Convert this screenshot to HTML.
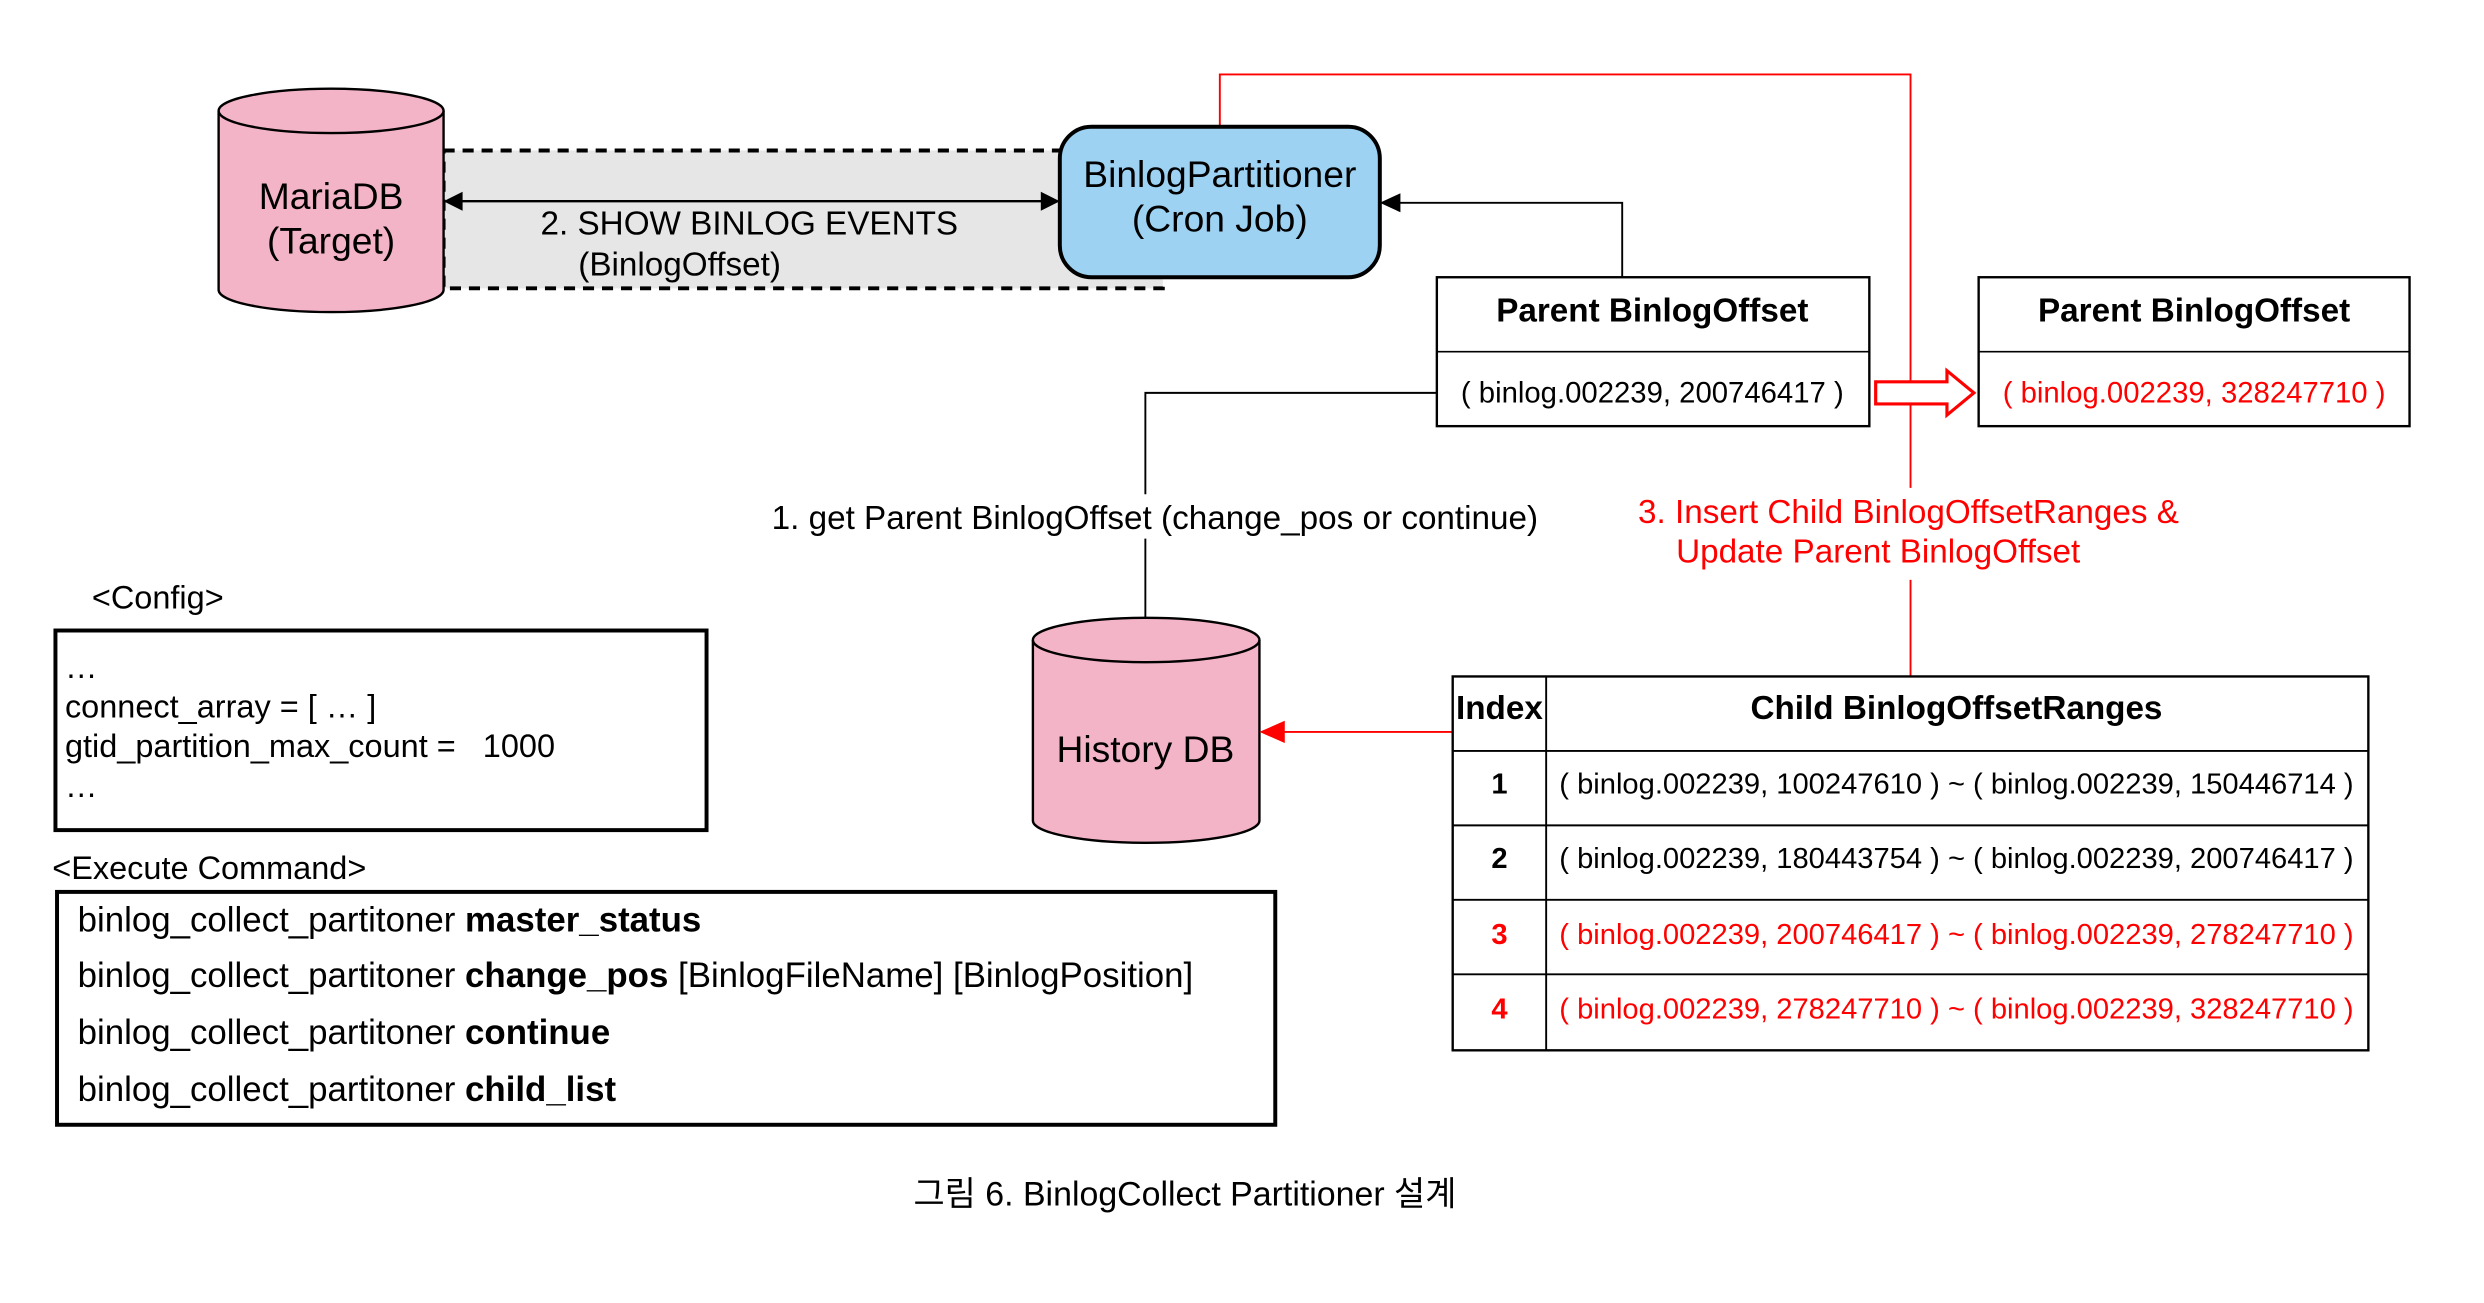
<!DOCTYPE html>
<html><head><meta charset="utf-8"><style>html,body{margin:0;padding:0;background:#fff}svg{display:block}text{font-family:"Liberation Sans","Noto Sans CJK KR",sans-serif}</style></head>
<body>
<svg width="2484" height="1303" viewBox="0 0 1568 822.5" xmlns="http://www.w3.org/2000/svg">
<rect x="280" y="95" width="454" height="87" fill="#e6e6e6" stroke="#000" stroke-width="2.5" stroke-dasharray="7,5"/>
<path d="M138,70 L138,183 A71,14 0 0 0 280,183 L280,70" fill="#f4b4c8" stroke="#000" stroke-width="1.5"/>
<ellipse cx="209" cy="70" rx="71" ry="14" fill="#f4b4c8" stroke="#000" stroke-width="1.5"/>
<text x="209" y="132" font-size="23.5" text-anchor="middle">MariaDB</text>
<text x="209" y="160" font-size="23.5" text-anchor="middle">(Target)</text>
<line x1="290" y1="127" x2="659" y2="127" stroke="#000" stroke-width="1.5"/>
<path d="M280,127 L292,121 L292,133 z" fill="#000"/>
<path d="M669,127 L657,121 L657,133 z" fill="#000"/>
<text x="473" y="148" font-size="21" text-anchor="middle">2. SHOW BINLOG EVENTS</text>
<text x="429" y="174" font-size="21" text-anchor="middle">(BinlogOffset)</text>
<polyline points="770,80 770,47 1206,47 1206,308" fill="none" stroke="#f00" stroke-width="1.2"/>
<line x1="1206" y1="366" x2="1206" y2="427" stroke="#f00" stroke-width="1.2"/>
<rect x="669" y="80" width="202" height="95" rx="20" fill="#9dd2f2" stroke="#000" stroke-width="2.5"/>
<text x="770" y="118" font-size="23.5" text-anchor="middle">BinlogPartitioner</text>
<text x="770" y="146" font-size="23.5" text-anchor="middle">(Cron Job)</text>
<polyline points="1024,175 1024,128 883,128" fill="none" stroke="#000" stroke-width="1.2"/>
<path d="M871,128 L884,122 L884,134 z" fill="#000"/>
<rect x="907" y="175" width="273" height="94" fill="#fff" stroke="#000" stroke-width="1.5"/>
<line x1="907" y1="222" x2="1180" y2="222" stroke="#000" stroke-width="1"/>
<text x="1043" y="203" font-size="21" font-weight="bold" text-anchor="middle">Parent BinlogOffset</text>
<text x="1043" y="254" font-size="18.5" text-anchor="middle">( binlog.002239, 200746417 )</text>
<rect x="1249" y="175" width="272" height="94" fill="#fff" stroke="#000" stroke-width="1.5"/>
<line x1="1249" y1="222" x2="1521" y2="222" stroke="#000" stroke-width="1"/>
<text x="1385" y="203" font-size="21" font-weight="bold" text-anchor="middle">Parent BinlogOffset</text>
<text x="1385" y="254" font-size="18.5" text-anchor="middle" fill="#f00">( binlog.002239, 328247710 )</text>
<path d="M1184,241 L1229,241 L1229,234 L1246,248 L1229,262 L1229,255 L1184,255 z" fill="#fff" stroke="#f00" stroke-width="2"/>
<polyline points="907,248 723,248 723,312" fill="none" stroke="#000" stroke-width="1.2"/>
<line x1="723" y1="340" x2="723" y2="390" stroke="#000" stroke-width="1.2"/>
<text x="729" y="334" font-size="21" text-anchor="middle">1. get Parent BinlogOffset (change_pos or continue)</text>
<text x="1034" y="330" font-size="21" fill="#f00">3. Insert Child BinlogOffsetRanges &amp;</text>
<text x="1058" y="355" font-size="21" fill="#f00">Update Parent BinlogOffset</text>
<path d="M652,404 L652,518 A71.5,14 0 0 0 795,518 L795,404" fill="#f4b4c8" stroke="#000" stroke-width="1.5"/>
<ellipse cx="723.5" cy="404" rx="71.5" ry="14" fill="#f4b4c8" stroke="#000" stroke-width="1.5"/>
<text x="723" y="481" font-size="23.5" text-anchor="middle">History DB</text>
<line x1="917" y1="462" x2="808" y2="462" stroke="#f00" stroke-width="1.2"/>
<path d="M795,462 L811,455 L811,469 z" fill="#f00"/>
<rect x="917" y="427" width="578" height="236" fill="#fff" stroke="#000" stroke-width="1.5"/>
<line x1="976" y1="427" x2="976" y2="663" stroke="#000" stroke-width="1.2"/>
<line x1="917" y1="474" x2="1495" y2="474" stroke="#000" stroke-width="1.2"/>
<line x1="917" y1="521" x2="1495" y2="521" stroke="#000" stroke-width="1.2"/>
<line x1="917" y1="568" x2="1495" y2="568" stroke="#000" stroke-width="1.2"/>
<line x1="917" y1="615" x2="1495" y2="615" stroke="#000" stroke-width="1.2"/>
<text x="946.5" y="454" font-size="21" font-weight="bold" text-anchor="middle">Index</text>
<text x="1235" y="454" font-size="21" font-weight="bold" text-anchor="middle">Child BinlogOffsetRanges</text>
<g font-size="18.4" text-anchor="middle">
<text x="946.5" y="501" font-weight="bold">1</text>
<text x="1235" y="501">( binlog.002239, 100247610 ) ~ ( binlog.002239, 150446714 )</text>
<text x="946.5" y="548" font-weight="bold">2</text>
<text x="1235" y="548">( binlog.002239, 180443754 ) ~ ( binlog.002239, 200746417 )</text>
<text x="946.5" y="596" font-weight="bold" fill="#f00">3</text>
<text x="1235" y="596" fill="#f00">( binlog.002239, 200746417 ) ~ ( binlog.002239, 278247710 )</text>
<text x="946.5" y="643" font-weight="bold" fill="#f00">4</text>
<text x="1235" y="643" fill="#f00">( binlog.002239, 278247710 ) ~ ( binlog.002239, 328247710 )</text>
</g>
<text x="58" y="384" font-size="20.5">&lt;Config&gt;</text>
<rect x="35" y="398" width="411" height="126" fill="#fff" stroke="#000" stroke-width="2.5"/>
<g font-size="20.5">
<text x="41" y="428">…</text>
<text x="41" y="453">connect_array = [ … ]</text>
<text x="41" y="478">gtid_partition_max_count = &#160;&#160;1000</text>
<text x="41" y="503">…</text>
</g>
<text x="33" y="555" font-size="20.5">&lt;Execute Command&gt;</text>
<rect x="36" y="563" width="769" height="147" fill="#fff" stroke="#000" stroke-width="2.5"/>
<g font-size="22">
<text x="49" y="588">binlog_collect_partitoner <tspan font-weight="bold">master_status</tspan></text>
<text x="49" y="623">binlog_collect_partitoner <tspan font-weight="bold">change_pos</tspan> [BinlogFileName] [BinlogPosition]</text>
<text x="49" y="659">binlog_collect_partitoner <tspan font-weight="bold">continue</tspan></text>
<text x="49" y="695">binlog_collect_partitoner <tspan font-weight="bold">child_list</tspan></text>
</g>
<text x="748" y="761" font-size="21.4" text-anchor="middle">그림 6. BinlogCollect Partitioner 설계</text>
</svg>
</body></html>
